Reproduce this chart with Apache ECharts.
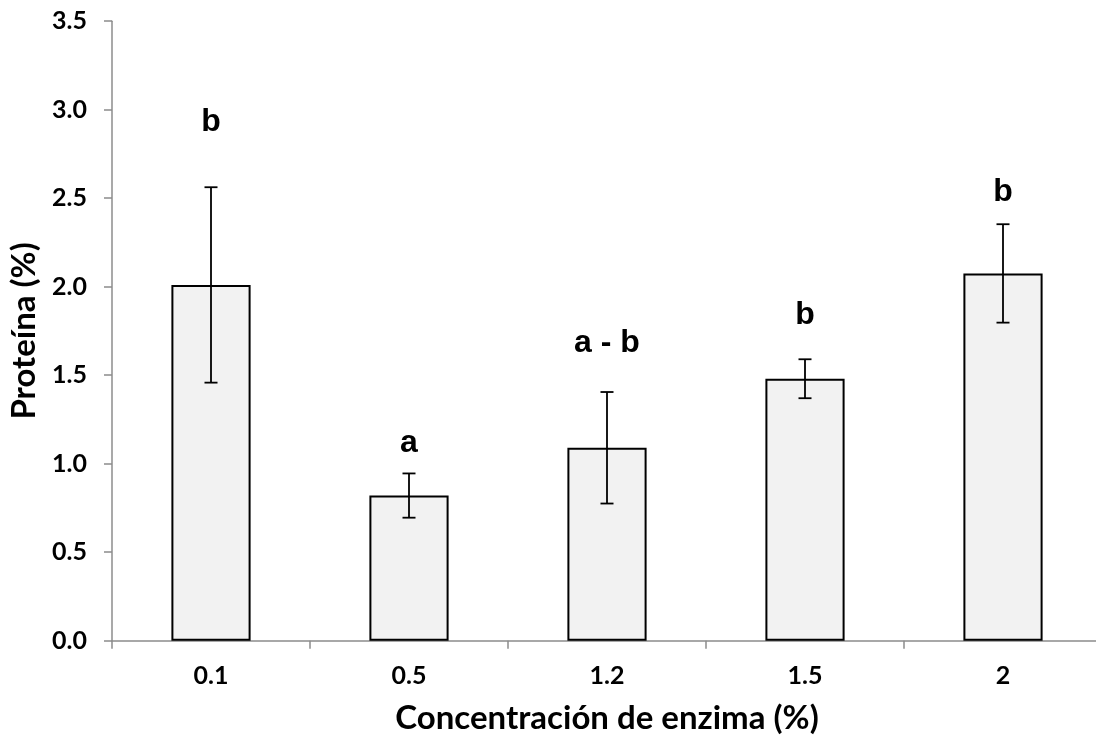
<!DOCTYPE html>
<html>
<head>
<meta charset="utf-8">
<script src="https://cdn.jsdelivr.net/npm/echarts@6/dist/echarts.min.js"></script>
<style>html,body{margin:0;padding:0;background:#fff;}#c{width:1096px;height:736px;}</style>
</head>
<body>
<div id="c"></div>
<script>
var categories = ['0.1', '0.5', '1.2', '1.5', '2'];
var values = [2.01, 0.82, 1.09, 1.48, 2.075];
var errors = [0.552, 0.125, 0.315, 0.11, 0.278];
var letters = ['b', 'a', 'a - b', 'b', 'b'];
var letterY = [2.93, 1.117, 1.682, 1.84, 2.535];
var yTicks = [0, 0.5, 1.0, 1.5, 2.0, 2.5, 3.0, 3.5];

var axisFont = 'Lato, "Open Sans", sans-serif';
var chart = echarts.init(document.getElementById('c'));
chart.setOption({
  animation: false,
  backgroundColor: '#ffffff',
  grid: { left: 112, right: -6, top: 21.2, bottom: 95.3, containLabel: false, outerBoundsMode: 'none' },
  xAxis: {
    type: 'category',
    data: categories,
    boundaryGap: true,
    name: 'Concentración de enzima (%)',
    nameLocation: 'middle',
    nameGap: 61,
    nameTextStyle: { fontFamily: axisFont, fontWeight: 'bold', fontSize: 33, color: '#000' },
    axisLine: { show: true, lineStyle: { color: '#8c8c8c', width: 1.5 } },
    axisTick: { show: true, alignWithLabel: false, length: 8, lineStyle: { color: '#8c8c8c', width: 1.5 } },
    axisLabel: { margin: 23, fontFamily: axisFont, fontWeight: 'bold', fontSize: 25, color: '#000' },
    splitLine: { show: false }
  },
  yAxis: {
    type: 'value',
    min: yTicks[0],
    max: yTicks[yTicks.length - 1],
    interval: 0.5,
    name: 'Proteína (%)',
    nameLocation: 'middle',
    nameGap: 65,
    nameTextStyle: { fontFamily: axisFont, fontWeight: 'bold', fontSize: 33, color: '#000' },
    axisLine: { show: true, lineStyle: { color: '#8c8c8c', width: 1.5 } },
    axisTick: { show: true, length: 8, lineStyle: { color: '#8c8c8c', width: 1.5 } },
    axisLabel: { margin: 25, fontFamily: axisFont, fontWeight: 'bold', fontSize: 25, color: '#000',
      formatter: function (v) { return v.toFixed(1); } },
    splitLine: { show: false }
  },
  series: [
    {
      type: 'bar',
      data: values,
      barWidth: '40%',
      itemStyle: { color: '#f2f2f2', borderColor: '#000', borderWidth: 2 },
      z: 2
    },
    {
      type: 'custom',
      data: values.map(function (v, i) { return [i, v - errors[i], v + errors[i]]; }),
      renderItem: function (params, api) {
        var lo = api.coord([api.value(0), api.value(1)]);
        var hi = api.coord([api.value(0), api.value(2)]);
        var x = lo[0], cap = 6.5;
        var st = { stroke: '#000', lineWidth: 1.8 };
        return {
          type: 'group',
          children: [
            { type: 'line', shape: { x1: x, y1: lo[1], x2: x, y2: hi[1] }, style: st },
            { type: 'line', shape: { x1: x - cap, y1: lo[1], x2: x + cap, y2: lo[1] }, style: st },
            { type: 'line', shape: { x1: x - cap, y1: hi[1], x2: x + cap, y2: hi[1] }, style: st }
          ]
        };
      },
      z: 5
    },
    {
      type: 'custom',
      data: letterY.map(function (y, i) { return [i, y]; }),
      renderItem: function (params, api) {
        var p = api.coord([api.value(0), api.value(1)]);
        return {
          type: 'text',
          x: p[0], y: p[1],
          style: {
            text: letters[params.dataIndex],
            fill: '#000',
            font: 'bold 32px "Liberation Sans", Arial, sans-serif',
            align: 'center',
            verticalAlign: 'middle'
          }
        };
      },
      z: 6
    }
  ]
});
</script>
</body>
</html>
